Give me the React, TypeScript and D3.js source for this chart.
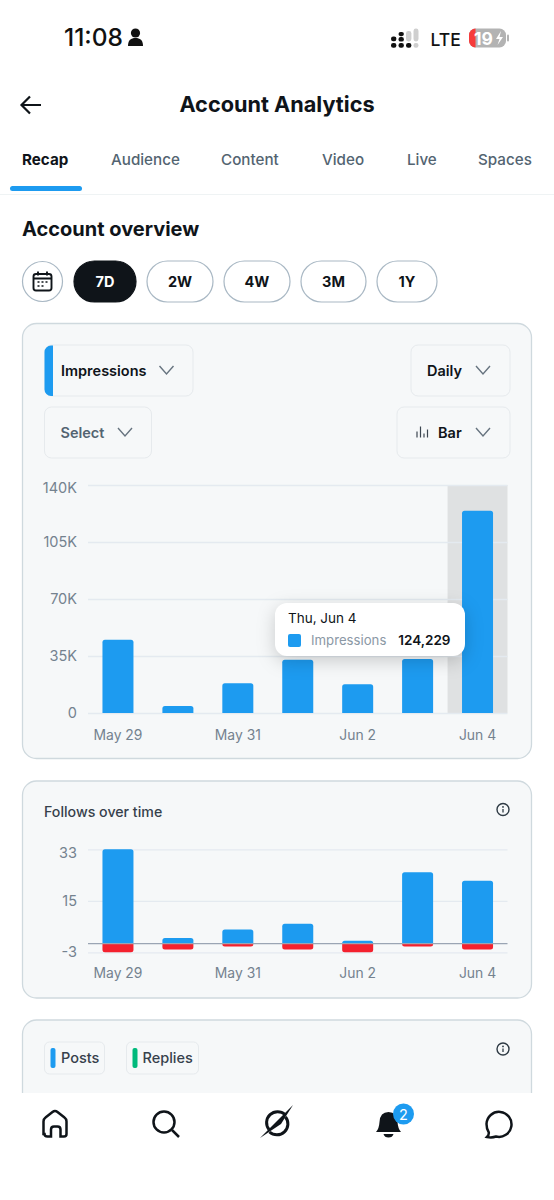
import * as d3 from 'd3';
import { useEffect, useRef } from 'react';

const days = ['May 29', 'May 30', 'May 31', 'Jun 1', 'Jun 2', 'Jun 3', 'Jun 4'];
const xTickDays = ['May 29', 'May 31', 'Jun 2', 'Jun 4'];
const impressions = [45000, 4300, 18200, 32700, 17600, 33100, 124229];
const impressionTicks = [0, 35000, 70000, 105000, 140000];
const follows = [33, 2, 5, 7, 1, 25, 22];
const unfollows = [-3, -2, -1, -2, -3, -1, -2];
const followTicks = [-3, 15, 33];
const tabs = ['Recap', 'Audience', 'Content', 'Video', 'Live', 'Spaces'];
const tabX = [22, 111, 221, 322, 407, 478];
const ranges = ['7D', '2W', '4W', '3M', '1Y'];
const rangeX = [[74, 136], [147, 213], [224, 290], [301, 366], [377, 437]];

const FONT = 'Inter, "Noto Sans", sans-serif';
const BLUE = '#1d9bf0';
const RED = '#f4212e';
const DARK = '#0f1419';
const SLATE = '#536471';
const AXIS = '#74828f';
const GRID = '#e4eaf0';
const BORDER = '#cfd9de';

const BAR_WIDTH = 31;

// rounded only on the far end of the bar, the other end sits on the baseline
function barPath(x: number, w: number, base: number, end: number, r: number) {
  const dir = end < base ? 1 : -1;
  const rr = Math.min(r, Math.abs(end - base));
  return `M${x},${base}L${x},${end + dir * rr}Q${x},${end} ${x + rr},${end}L${x + w - rr},${end}Q${x + w},${end} ${x + w},${end + dir * rr}L${x + w},${base}Z`;
}

function styleAxis(
  g: d3.Selection<SVGGElement, unknown, null, undefined>,
  size: string,
) {
  g.select('.domain').remove();
  g.selectAll('text')
    .style('font-family', FONT)
    .style('font-size', size)
    .style('fill', AXIS);
}

function Chevron({ x, y }: { x: number; y: number }) {
  return (
    <path
      d={`M${x - 7},${y - 4}L${x},${y + 4}L${x + 7},${y - 4}`}
      fill="none"
      stroke="#66737f"
      strokeWidth={1.4}
    />
  );
}

function Info({ x, y }: { x: number; y: number }) {
  return (
    <g>
      <circle cx={x} cy={y} r={6} fill="none" stroke="#2f3b45" strokeWidth={1.4} />
      <circle cx={x} cy={y - 2.6} r={0.9} fill="#2f3b45" />
      <path d={`M${x},${y - 0.6}V${y + 3}`} stroke="#2f3b45" strokeWidth={1.3} />
    </g>
  );
}

function Dropdown(props: {
  x: number;
  y: number;
  w: number;
  label: string;
  textX: number;
  chevX: number;
  color?: string;
}) {
  const { x, y, w, label, textX, chevX, color = DARK } = props;
  return (
    <g>
      <rect x={x} y={y} width={w} height={51} rx={7} fill="#f6f8f9" stroke="#e6eaed" />
      <text x={textX} y={y + 30.5} fontSize={14.5} fontWeight={600} fill={color}>
        {label}
      </text>
      <Chevron x={chevX} y={y + 25} />
    </g>
  );
}

export default function App() {
  const impressionsRef = useRef<SVGGElement>(null);
  const followsRef = useRef<SVGGElement>(null);

  useEffect(() => {
    if (!impressionsRef.current) return;
    const g = d3.select(impressionsRef.current);
    g.selectAll('*').remove();

    const x = d3.scaleBand().domain(days).range([88, 507.5]);
    const y = d3.scaleLinear().domain([0, 140000]).range([713, 485]);

    g.append('rect')
      .attr('x', x('Jun 4') || 0)
      .attr('y', y(140000))
      .attr('width', x.bandwidth())
      .attr('height', y(0) - y(140000))
      .attr('fill', '#dfe1e2');

    const yAxis = g
      .append('g')
      .attr('transform', 'translate(88,0)')
      .call(
        d3
          .axisLeft(y)
          .tickValues(impressionTicks)
          .tickSize(-419.5)
          .tickPadding(11)
          .tickFormat((d) => (+d === 0 ? '0' : `${+d / 1000}K`)),
      );
    styleAxis(yAxis, '14.5px');
    yAxis.selectAll('line').attr('stroke', GRID).attr('stroke-width', 1.3);
    // the top label sits a little under its gridline
    yAxis.selectAll('.tick text').attr('dy', (d) => (+d === 140000 ? '0.55em' : '0.32em'));

    const xAxis = g
      .append('g')
      .attr('transform', 'translate(0,713)')
      .call(d3.axisBottom(x).tickValues(xTickDays).tickSize(0).tickPadding(17));
    styleAxis(xAxis, '13.9px');

    g.selectAll('path.bar')
      .data(days)
      .enter()
      .append('path')
      .attr('class', 'bar')
      .attr('fill', BLUE)
      .attr('d', (d, i) =>
        barPath(
          (x(d) || 0) + (x.bandwidth() - BAR_WIDTH) / 2,
          BAR_WIDTH,
          y(0),
          y(impressions[i]),
          2.5,
        ),
      );
  }, []);

  useEffect(() => {
    if (!followsRef.current) return;
    const g = d3.select(followsRef.current);
    g.selectAll('*').remove();

    const x = d3.scaleBand().domain(days).range([88, 507.5]);
    const y = d3.scaleLinear().domain([-3, 33]).range([952.3, 849.3]);

    const yAxis = g
      .append('g')
      .attr('transform', 'translate(88,0)')
      .call(
        d3
          .axisLeft(y)
          .tickValues(followTicks)
          .tickSize(-419.5)
          .tickPadding(11)
          .tickFormat((d) => `${d}`),
      );
    styleAxis(yAxis, '14.5px');
    yAxis.selectAll('line').attr('stroke', GRID).attr('stroke-width', 1.3);
    yAxis.selectAll('.tick text').attr('dy', (d) => (+d === 33 ? '0.55em' : '0.32em'));

    const xAxis = g
      .append('g')
      .attr('transform', 'translate(0,952.3)')
      .call(d3.axisBottom(x).tickValues(xTickDays).tickSize(0).tickPadding(16));
    styleAxis(xAxis, '13.9px');

    const barX = (d: string) => (x(d) || 0) + (x.bandwidth() - BAR_WIDTH) / 2;

    g.selectAll('path.follow')
      .data(days)
      .enter()
      .append('path')
      .attr('class', 'follow')
      .attr('fill', BLUE)
      .attr('d', (d, i) => barPath(barX(d), BAR_WIDTH, y(0), y(follows[i]), 2.5));

    g.selectAll('path.unfollow')
      .data(days)
      .enter()
      .append('path')
      .attr('class', 'unfollow')
      .attr('fill', RED)
      .attr('d', (d, i) => barPath(barX(d), BAR_WIDTH, y(0), y(unfollows[i]), 2.5));

    g.append('line')
      .attr('x1', 88)
      .attr('x2', 507.5)
      .attr('y1', y(0))
      .attr('y2', y(0))
      .attr('stroke', '#9aa5b4')
      .attr('stroke-width', 1.2);
  }, []);

  return (
    <svg
      width={554}
      height={1200}
      viewBox="0 0 554 1200"
      style={{ position: 'absolute', left: 0, top: 0, background: '#fff' }}
      fontFamily={FONT}
    >
      {/* status bar */}
      <text x={64} y={46} fontSize={24.5} fontWeight={500} fill="#111">
        11:08
      </text>
      <circle cx={135.5} cy={33} r={4.6} fill="#111" />
      <path d="M128,46c0-6 3-8 7.5-8s7.5 2 7.5 8z" fill="#111" />
      <rect x={391} y={36.5} width={5.4} height={4.8} rx={2.2} fill="#111" />
      <rect x={391} y={43} width={5.4} height={4.8} rx={2.2} fill="#111" />
      <rect x={398.5} y={32} width={5.4} height={4.2} rx={2.1} fill="#111" />
      <rect x={398.5} y={37} width={5.4} height={4.6} rx={2.2} fill="#111" />
      <rect x={398.5} y={43} width={5.4} height={4.8} rx={2.2} fill="#111" />
      <rect x={406} y={31} width={5.4} height={10.5} rx={2.4} fill="#cfcfcf" />
      <rect x={406} y={43} width={5.4} height={4.8} rx={2.2} fill="#111" />
      <rect x={413.5} y={28.5} width={5} height={13} rx={2.4} fill="#cfcfcf" />
      <rect x={413.5} y={43} width={5} height={4.8} rx={2.2} fill="#cfcfcf" />
      <text x={430.5} y={45.5} fontSize={17.5} fontWeight={500} fill="#111">
        LTE
      </text>
      <rect x={469} y={28.5} width={37} height={19} rx={6.5} fill="#b3b3b3" />
      <path d="M475.5,28.5a6.5,6.5 0 0 0 -6.5,6.5v6a6.500,6.500 0 0 0 6.5,6.500z" fill="#f63b3b" />
      <rect x={507} y={34.5} width={2} height={7} rx={1} fill="#b3b3b3" />
      <text x={474} y={44.5} fontSize={17.5} fontWeight={700} fill="#fff">
        19
      </text>
      <path d="M501,31l-5,8h3.500l-2,6l5.500-8h-3.500z" fill="#fff" />

      {/* header */}
      <path
        d="M41,105H22M30,96.500L21.500,105L30,113.500"
        fill="none"
        stroke={DARK}
        strokeWidth={2.2}
      />
      <text x={277} y={112} textAnchor="middle" fontSize={21.700} fontWeight={700} fill={DARK}>
        Account Analytics
      </text>
      {tabs.map((t, i) => (
        <text
          key={t}
          x={tabX[i]}
          y={165}
          fontSize={15.2}
          fontWeight={i === 0 ? 700 : 500}
          fill={i === 0 ? DARK : SLATE}
        >
          {t}
        </text>
      ))}
      <rect x={10} y={186} width={72} height={5} rx={2.5} fill={BLUE} />
      <line x1={0} x2={554} y1={194.500} y2={194.500} stroke="#eff3f4" strokeWidth={1.2} />

      <text x={22} y={235.500} fontSize={20} fontWeight={700} fill={DARK}>
        Account overview
      </text>

      {/* range pills */}
      <circle cx={42.500} cy={281.500} r={20} fill="#fff" stroke="#a9b8c4" strokeWidth={1.2} />
      <rect x={33.500} y={274} width={18} height={16.500} rx={2.500} fill="none" stroke={DARK} strokeWidth={1.9} />
      <path d="M33.500,278.500h18M38,271.500v4M47,271.500v4" stroke={DARK} strokeWidth={1.9} fill="none" />
      <path d="M37.500,282h2M41.500,282h2M45.500,282h2M37.500,286h2M41.500,286h2" stroke={DARK} strokeWidth={1.7} />
      {ranges.map((r, i) => {
        const [x0, x1] = rangeX[i];
        const on = i === 0;
        return (
          <g key={r}>
            <rect
              x={x0}
              y={261}
              width={x1 - x0}
              height={41}
              rx={20.500}
              fill={on ? DARK : '#fff'}
              stroke={on ? DARK : '#a9b8c4'}
              strokeWidth={1.2}
            />
            <text
              x={(x0 + x1) / 2}
              y={287}
              textAnchor="middle"
              fontSize={14.500}
              fontWeight={700}
              fill={on ? '#fff' : DARK}
            >
              {r}
            </text>
          </g>
        );
      })}

      {/* impressions card */}
      <rect x={22.500} y={323.500} width={509} height={435} rx={14} fill="#f6f8f9" stroke={BORDER} strokeWidth={1.3} />
      <Dropdown x={45} y={345} w={148} label="Impressions" textX={61} chevX={166.500} />
      <path d="M53,345.500h-2a6.500,6.500 0 0 0 -6.500,6.500v37.500a6.500,6.500 0 0 0 6.500,6.500h2z" fill={BLUE} />
      <Dropdown x={411} y={345} w={99} label="Daily" textX={427} chevX={483} />
      <Dropdown x={44.500} y={407} w={107} label="Select" textX={60.500} chevX={125} color={SLATE} />
      <Dropdown x={397} y={407} w={113} label="Bar" textX={438} chevX={483} />
      <path d="M417,437.500v-6M420.500,437.500v-11M424,437.500v-4M427.500,437.500v-8" stroke="#3c4650" strokeWidth={1.2} />

      <g ref={impressionsRef} />

      {/* tooltip */}
      <g style={{ filter: 'drop-shadow(0px 5px 9px rgba(0,0,0,0.18))' }}>
        <rect x={275} y={603} width={190} height={53} rx={12} fill="#fff" />
      </g>
      <text x={288} y={623} fontSize={13.500} fill={DARK}>
        Thu, Jun 4
      </text>
      <rect x={288} y={634} width={13} height={13} rx={2} fill={BLUE} />
      <text x={311} y={645} fontSize={13.200} fill="#8b98a5">
        Impressions
      </text>
      <text x={450.500} y={645} textAnchor="end" fontSize={13.500} fontWeight={600} fill={DARK}>
        124,229
      </text>

      {/* follows card */}
      <rect x={22.500} y={781} width={509} height={217} rx={14} fill="#f6f8f9" stroke={BORDER} strokeWidth={1.3} />
      <text x={44} y={817} fontSize={14.200} fontWeight={500} fill="#36414c">
        Follows over time
      </text>
      <Info x={503} y={809.500} />
      <g ref={followsRef} />

      {/* third card, cut off by the nav bar */}
      <rect x={22.500} y={1020} width={509} height={120} rx={14} fill="#f6f8f9" stroke={BORDER} strokeWidth={1.3} />
      <rect x={44.500} y={1042} width={60} height={32} rx={5} fill="#f6f8f9" stroke="#e6eaed" />
      <rect x={50.500} y={1048} width={5} height={20} rx={2} fill={BLUE} />
      <text x={61} y={1063} fontSize={14.500} fontWeight={500} fill="#36414c">
        Posts
      </text>
      <rect x={126.500} y={1042} width={72} height={32} rx={5} fill="#f6f8f9" stroke="#e6eaed" />
      <rect x={132.500} y={1048} width={5} height={20} rx={2} fill="#00ba7c" />
      <text x={142.500} y={1063} fontSize={14.500} fontWeight={500} fill="#36414c">
        Replies
      </text>
      <Info x={503} y={1049} />

      {/* bottom nav */}
      <rect x={0} y={1093} width={554} height={107} fill="#fff" />
      <path
        d="M43.500,1134v-12.500q0-2.500 2-4l7-5.500q2.500-2 5-0l7,5.500q2,1.500 2,4v12.500q0,2.500-2.500,2.500h-3.500v-7q0-3-3-3h-3.500q-3,0-3,3v7h-3.500q-3,0-3-2.500z"
        fill="none"
        stroke={DARK}
        strokeWidth={2.500}
      />
      <circle cx={164} cy={1122} r={10.500} fill="none" stroke={DARK} strokeWidth={2.500} />
      <path d="M172,1130l7,7" stroke={DARK} strokeWidth={2.500} />
      <path
        d="M285,1114.500a11,11 0 0 0 -16,15M269.500,1132a11,11 0 0 0 16,-15"
        fill="none"
        stroke={DARK}
        strokeWidth={3}
      />
      <path d="M260,1138L293,1105L281,1124z" fill={DARK} />
      <path d="M376,1132q3-3 3.500-10q0.500-10 9-10q8.500,0 9,10q0.500,7 3.500,10z" fill={DARK} />
      <path d="M383.500,1134h10q-1,3.500-5,3.500t-5-3.500z" fill={DARK} />
      <circle cx={403.500} cy={1114} r={10.500} fill={BLUE} />
      <text x={403.500} y={1119.500} textAnchor="middle" fontSize={14.500} fill="#fff">
        2
      </text>
      <path
        d="M486.500,1124a12.500,12.500 0 1 1 9.500,12.500q-4,1.500-9,0.500q2-2 1.800-4.500q-2.300-3.500-2.300-8.500z"
        fill="none"
        stroke={DARK}
        strokeWidth={2.500}
      />
    </svg>
  );
}
